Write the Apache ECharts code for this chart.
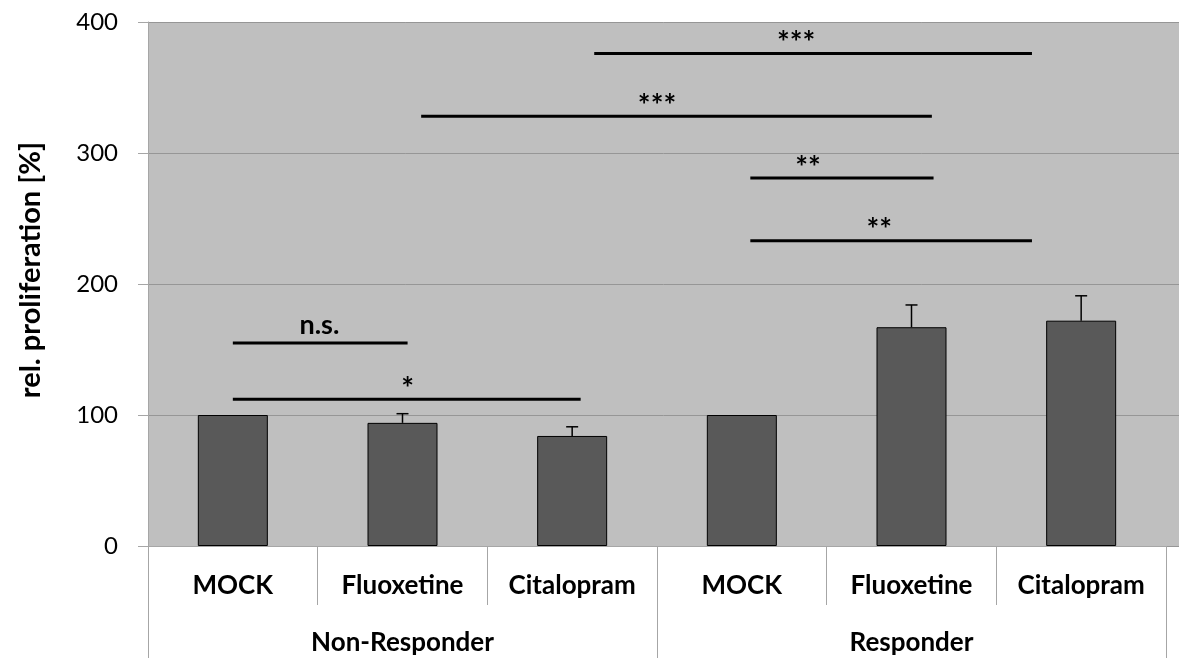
<!DOCTYPE html>
<html><head><meta charset="utf-8">
<script src="https://cdn.jsdelivr.net/npm/echarts@6/dist/echarts.min.js"></script>
<style>html,body{margin:0;padding:0;background:#fff}#c{width:1179px;height:658px}</style>
</head><body><div id="c"></div>
<script>
// ---- data ----
const categories = ['MOCK', 'Fluoxetine', 'Citalopram', 'MOCK', 'Fluoxetine', 'Citalopram'];
const groups = ['Non-Responder', 'Responder'];
const proliferation = [100, 94, 84, 100, 167, 172];
const errorTop = [null, 101, 91, null, 184, 191];
const yMin = 0, yMax = 400, yStep = 100;
// significance brackets (x in category units, 0..6 across the plot)
const sigFrom = [0.5, 0.5, 2.63, 1.61, 3.55, 3.55];
const sigTo = [1.53, 2.55, 5.21, 4.62, 4.63, 5.21];
const sigLevel = [155, 112, 376, 328, 281, 233];
const sigLabel = ['n.s.', '*', '***', '***', '**', '**'];
const sigLabelAt = [1.01, 1.53, 3.82, 3.0, 3.89, 4.31];

const FONT = 'Lato';
const chart = echarts.init(document.getElementById('c'), null, {renderer: 'canvas'});

const errData = errorTop.map((e, i) => e == null ? null : [i, e, proliferation[i]]).filter(d => d);
const sigData = sigFrom.map((f, i) => [f, sigTo[i], sigLevel[i], sigLabelAt[i]]);

chart.setOption({
  animation: false,
  backgroundColor: '#fff',
  grid: [
    {left: 148, right: 0, top: 22, bottom: 112, show: true, backgroundColor: '#bfbfbf', borderWidth: 0, z: 0},
    {left: 148, right: 13, top: 22, bottom: 112, show: false}
  ],
  xAxis: [
    {gridIndex: 0, type: 'value', min: 0, max: 1, show: false},
    {gridIndex: 1, type: 'category', data: categories, position: 'bottom',
      axisLine: {show: true, lineStyle: {color: '#a6a6a6', width: 1}},
      axisTick: {show: true, length: 59, interval: 0, lineStyle: {color: '#a6a6a6'}},
      axisLabel: {interval: 0, margin: 27, color: '#000', fontFamily: FONT, fontWeight: 'bold', fontSize: 26, lineHeight: 26},
      splitLine: {show: false}},
    {gridIndex: 1, type: 'category', data: groups, position: 'bottom',
      axisLine: {show: false},
      axisTick: {show: true, length: 112, interval: 0, lineStyle: {color: '#a6a6a6'}},
      axisLabel: {interval: 0, margin: 84, color: '#000', fontFamily: FONT, fontWeight: 'bold', fontSize: 26, lineHeight: 26},
      splitLine: {show: false}},
    {gridIndex: 1, type: 'value', min: 0, max: 6, show: false}
  ],
  yAxis: [
    {gridIndex: 0, type: 'value', min: yMin, max: yMax, interval: yStep,
      axisLine: {show: false}, axisTick: {show: false}, axisLabel: {show: false},
      splitLine: {show: true, lineStyle: {color: '#969696', width: 1}}},
    {gridIndex: 1, type: 'value', min: yMin, max: yMax, interval: yStep,
      axisLine: {show: true, lineStyle: {color: '#a6a6a6'}},
      axisTick: {show: true, length: 10, lineStyle: {color: '#a6a6a6'}},
      axisLabel: {margin: 30, color: '#000', fontFamily: FONT, fontSize: 24},
      splitLine: {show: false}}
  ],
  graphic: [{
    type: 'text', x: 31, y: 270, rotation: Math.PI / 2, z: 10,
    style: {text: 'rel. proliferation [%]', font: 'bold 29px ' + FONT, fill: '#000', align: 'center', verticalAlign: 'middle'}
  }],
  series: [
    {type: 'bar', xAxisIndex: 1, yAxisIndex: 1, data: proliferation, barWidth: 70,
      itemStyle: {color: '#595959', borderColor: '#000', borderWidth: 1}, z: 3},
    {type: 'custom', xAxisIndex: 1, yAxisIndex: 1, data: errData, z: 4,
      encode: {x: 0, y: [1, 2]},
      renderItem: function (params, api) {
        const top = api.coord([api.value(0), api.value(1)]);
        const base = api.coord([api.value(0), api.value(2)]);
        const st = {stroke: '#000', lineWidth: 1.5};
        return {type: 'group', children: [
          {type: 'line', shape: {x1: top[0], y1: top[1], x2: base[0], y2: base[1]}, style: st},
          {type: 'line', shape: {x1: top[0] - 6, y1: top[1], x2: top[0] + 6, y2: top[1]}, style: st}
        ]};
      }},
    {type: 'custom', xAxisIndex: 3, yAxisIndex: 1, data: sigData, z: 5,
      encode: {x: [0, 1, 3], y: 2},
      renderItem: function (params, api) {
        const p1 = api.coord([api.value(0), api.value(2)]);
        const p2 = api.coord([api.value(1), api.value(2)]);
        const pl = api.coord([api.value(3), api.value(2)]);
        const lab = sigLabel[params.dataIndex];
        const isStar = lab.indexOf('*') >= 0;
        return {type: 'group', children: [
          {type: 'line', shape: {x1: p1[0], y1: p1[1], x2: p2[0], y2: p2[1]}, style: {stroke: '#000', lineWidth: 3}},
          {type: 'text', style: {text: lab, x: pl[0], y: p1[1] - (isStar ? -5 : 4), align: 'center', verticalAlign: 'bottom',
            font: 'bold ' + (isStar ? 30 : 27) + 'px ' + FONT, fill: '#000'}}
        ]};
      }}
  ]
});
</script></body></html>
